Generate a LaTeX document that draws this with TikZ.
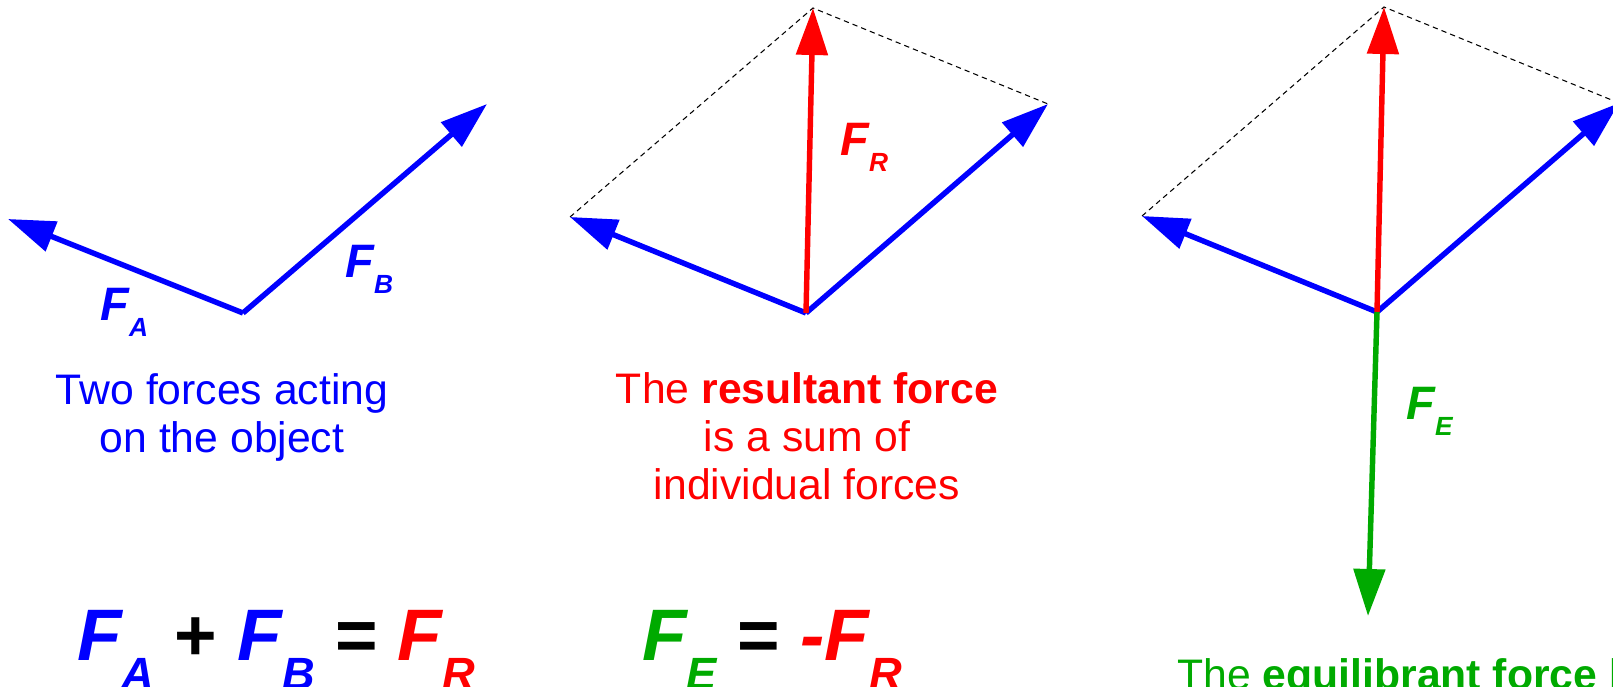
\documentclass[tikz,border=0pt]{standalone}
\usepackage{fontspec}
\setmainfont{Liberation Sans}
\usepackage{graphicx}
\usetikzlibrary{arrows.meta,calc,positioning}
\definecolor{forceblue}{RGB}{0,0,255}
\definecolor{forcered}{RGB}{255,0,0}
\definecolor{forcegreen}{RGB}{0,170,0}
\newcommand{\force}[1]{F\raisebox{-0.36em}{\scalebox{0.56}{#1}}}
\newcommand{\bigforce}[1]{F\raisebox{-0.40em}{\scalebox{0.62}{#1}}}

\begin{document}
\begin{tikzpicture}[
  vec/.style={line width=3.1pt,-{Triangle[length=0.94cm,width=0.62cm]}},
  helper/.style={black,line width=0.6pt,dash pattern=on 3pt off 2.3pt},
  lbl/.style={inner sep=0pt,anchor=base west,font=\fontsize{26.7}{30}\selectfont\bfseries\itshape},
  eqn/.style={inner sep=0pt,anchor=base west,font=\fontsize{41.5}{48}\selectfont\bfseries},
  caption/.style={inner sep=0pt,align=center,font=\fontsize{24.3}{27.3}\selectfont}]
  \useasboundingbox (0,0) rectangle (32.26,-13.74);

  % two forces
  \coordinate (o1) at (4.86,-6.26);
  \coordinate (a1) at (0.16,-4.38);
  \coordinate (b1) at (9.74,-2.08);
  \draw[vec,forceblue] (o1) -- (a1);
  \draw[vec,forceblue] (o1) -- (b1);
  \node[lbl,forceblue] (fa1) at (2.00,-6.40) {\force{A}};
  \node[lbl,forceblue] (fb1) at (6.90,-5.54) {\force{B}};
  \node[caption,anchor=north,forceblue] (cap1) at (4.44,-7.46)
    {Two forces acting\\on the object};

  % resultant
  \coordinate (o2) at (16.12,-6.26);
  \coordinate (a2) at (11.40,-4.34);
  \coordinate (b2) at (20.96,-2.08);
  \coordinate (r2) at (16.26,-0.16);
  \draw[helper] (a2) -- (r2) -- (b2);
  \draw[vec,forceblue] (o2) -- (a2);
  \draw[vec,forceblue] (o2) -- (b2);
  \draw[vec,forcered] (o2) -- (r2);
  \node[lbl,forcered] (fr2) at (16.80,-3.10) {\force{R}};
  \node[caption,anchor=north,forcered] (cap2) at (16.14,-7.44)
    {The \textbf{resultant force}\\is a sum of\\individual forces};

  % equilibrant
  \coordinate (o3) at (27.54,-6.24);
  \coordinate (a3) at (22.84,-4.32);
  \coordinate (b3) at (32.38,-2.06);
  \coordinate (r3) at (27.68,-0.14);
  \coordinate (e3) at (27.36,-12.32);
  \draw[helper] (a3) -- (r3) -- (b3);
  \draw[vec,forceblue] (o3) -- (a3);
  \draw[vec,forceblue] (o3) -- (b3);
  \draw[vec,forcered] (o3) -- (r3);
  \draw[vec,forcegreen] (o3) -- (e3);
  \node[lbl,forcegreen] (fe3) at (28.12,-8.38) {\force{E}};
  \node[caption,anchor=north west,forcegreen] (cap3) at (23.54,-13.16)
    {The \textbf{equilibrant force} b};

  % equations
  \node[eqn] (eq1) at (1.54,-13.20)
    {\textcolor{forceblue}{\itshape\bigforce{A}} + \textcolor{forceblue}{\itshape\bigforce{B}} = \textcolor{forcered}{\itshape\bigforce{R}}};
  \node[eqn] (eq2) at (12.84,-13.20)
    {\textcolor{forcegreen}{\itshape\bigforce{E}} = \textcolor{forcered}{\itshape -\bigforce{R}}};
\end{tikzpicture}
\end{document}
